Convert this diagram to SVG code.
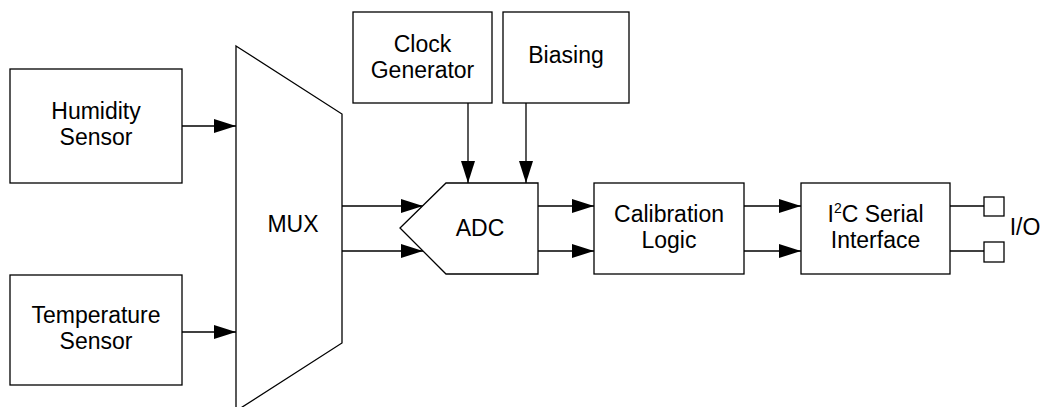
<svg xmlns="http://www.w3.org/2000/svg" width="1042" height="407" viewBox="0 0 1042 407">
<style>
.box{fill:#fff;stroke:#000;stroke-width:1.3}
.ln{fill:none;stroke:#000;stroke-width:1.3}
text{font-family:"Liberation Sans",Arial,sans-serif;font-size:23px;fill:#000;text-anchor:middle}
</style>
<defs>
<marker id="ah" markerUnits="userSpaceOnUse" markerWidth="22" markerHeight="14" refX="22" refY="7" orient="auto">
<path d="M0,0 L22,7 L0,14 Z" fill="#000"/>
</marker>
</defs>
<rect width="1042" height="407" fill="#fff"/>
<g id="connectors">
<line class="ln" x1="182" y1="126" x2="236" y2="126" marker-end="url(#ah)"/>
<line class="ln" x1="182" y1="332" x2="236" y2="332" marker-end="url(#ah)"/>
<line class="ln" x1="342" y1="206" x2="423" y2="206" marker-end="url(#ah)"/>
<line class="ln" x1="342" y1="251" x2="423" y2="251" marker-end="url(#ah)"/>
<line class="ln" x1="468" y1="103" x2="468" y2="183" marker-end="url(#ah)"/>
<line class="ln" x1="526" y1="103" x2="526" y2="183" marker-end="url(#ah)"/>
<line class="ln" x1="538" y1="206" x2="594" y2="206" marker-end="url(#ah)"/>
<line class="ln" x1="538" y1="251" x2="594" y2="251" marker-end="url(#ah)"/>
<line class="ln" x1="744" y1="206" x2="801" y2="206" marker-end="url(#ah)"/>
<line class="ln" x1="744" y1="251" x2="801" y2="251" marker-end="url(#ah)"/>
<line class="ln" x1="950" y1="206" x2="984" y2="206"/>
<line class="ln" x1="950" y1="251" x2="984" y2="251"/>
</g>
<g id="humidity">
<rect class="box" x="10" y="69" width="172" height="114"/>
<text x="96" y="119">Humidity</text>
<text x="96" y="145">Sensor</text>
</g>
<g id="temperature">
<rect class="box" x="10" y="275" width="172" height="110"/>
<text x="96" y="323">Temperature</text>
<text x="96" y="349">Sensor</text>
</g>
<g id="mux">
<path class="box" d="M236,46 L342,114 L342,343 L236,411 Z"/>
<text x="293" y="232">MUX</text>
</g>
<g id="clock">
<rect class="box" x="353" y="12" width="139" height="91"/>
<text x="422.5" y="52">Clock</text>
<text x="422.5" y="78">Generator</text>
</g>
<g id="biasing">
<rect class="box" x="503" y="12" width="126" height="91"/>
<text x="566" y="63">Biasing</text>
</g>
<g id="adc">
<path class="box" d="M446,183 L538,183 L538,274 L446,274 L400,228 Z"/>
<text x="480" y="236">ADC</text>
</g>
<g id="calibration">
<rect class="box" x="594" y="183" width="150" height="91"/>
<text x="669" y="222">Calibration</text>
<text x="669" y="248">Logic</text>
</g>
<g id="i2c">
<rect class="box" x="801" y="183" width="149" height="91"/>
<text x="875.5" y="222">I<tspan font-size="14" dy="-9">2</tspan><tspan dy="9">C Serial</tspan></text>
<text x="875.5" y="248">Interface</text>
</g>
<g id="io">
<rect class="box" x="984" y="197" width="20" height="19"/>
<rect class="box" x="984" y="242" width="20" height="20"/>
<text x="1025" y="235">I/O</text>
</g>
</svg>
